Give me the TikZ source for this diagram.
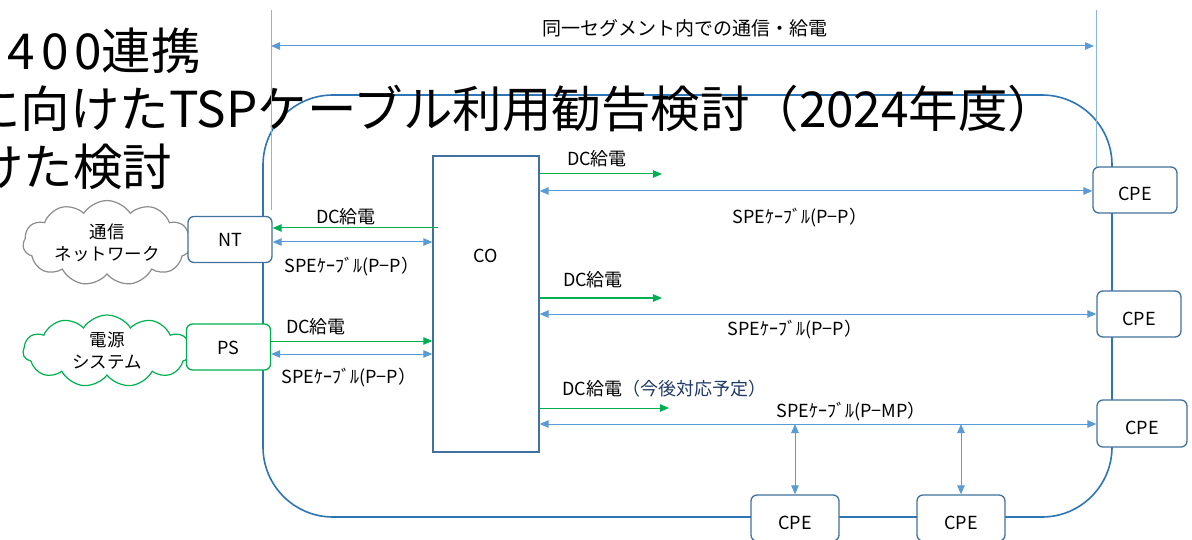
\documentclass[tikz,border=0pt]{standalone}
\usepackage{fontspec}
\setmainfont{Noto Sans CJK JP}
\usetikzlibrary{arrows.meta,shapes.symbols}
\definecolor{rectblue}{HTML}{2E75B6}
\definecolor{lblue}{HTML}{5B9BD5}
\definecolor{vblue}{HTML}{8AB6E0}
\definecolor{boxblue}{HTML}{41719C}
\definecolor{pgreen}{HTML}{00B050}
\definecolor{navy}{HTML}{203864}
\definecolor{cgray}{HTML}{8C8C8C}
\begin{document}
\begin{tikzpicture}[x=1pt,y=-1pt,
  tipA/.tip={Triangle[length=9pt,width=7.5pt]},
  box/.style={draw=boxblue, line width=1.3pt, rounded corners=6pt, fill=white,
    minimum width=84pt, minimum height=46pt, inner sep=0pt, font=\fontsize{18}{21}\selectfont},
  cpebox/.style={box, text height=22pt, text depth=0pt},
  bl/.style={draw=lblue, line width=1pt, {tipA}-{tipA}},
  gr/.style={draw=pgreen, line width=1pt, -{tipA}},
  vline/.style={draw=vblue, line width=0.9pt},
  lbl/.style={font=\fontsize{18}{21}\selectfont, inner sep=0pt},
  ttl/.style={font=\fontsize{49.5}{58}\selectfont, inner sep=0pt, anchor=base west},
  cloudtxt/.style={font=\fontsize{17.5}{22}\selectfont, align=center, inner sep=0pt}
]
\useasboundingbox (0,0) rectangle (1192,540);
\clip (0,0) rectangle (1192,540);

% segment outline
\draw[rectblue, line width=1.6pt, rounded corners=70pt] (263,95) rectangle (1112,517);

% title (cropped at the left edge)
\node[ttl] (t1) at (-26,70) {{\addfontfeature{LetterSpace=12}2400}連携};
\node[ttl] (t2) at (-29,128) {に向けたTSPケーブル利用勧告検討（2024年度）};
\node[ttl] (t3) at (-26,186) {けた検討};

% segment dimension
\coordinate (vl1) at (271,10); \coordinate (vl2) at (271,210);
\coordinate (vr1) at (1096,10); \coordinate (vr2) at (1096,167);
\draw[vline] (vl1) -- (vl2);
\draw[vline] (vr1) -- (vr2);
\coordinate (sl) at (271,46); \coordinate (sr) at (1094,46);
\draw[bl] (sl) -- (sr);
\node[lbl, font=\fontsize{19}{22}\selectfont] (seg) at (685,28) {同一セグメント内での通信・給電};

% clouds
\node[cloud, draw=cgray, line width=1.2pt, cloud puffs=11, cloud puff arc=115, aspect=2.3,
  minimum width=168pt, minimum height=76pt, fill=white, cloudtxt] (net) at (107,243) {通信\\ネットワーク};
\node[cloud, draw=pgreen, line width=1.2pt, cloud puffs=11, cloud puff arc=115, aspect=2.4,
  minimum width=168pt, minimum height=72pt, fill=white, cloudtxt] (pwr) at (107,351) {電源\\システム};

% boxes
\node[box] (nt) at (230,239.5) {NT};
\node[box, draw=pgreen, text height=15pt, text depth=0pt] (ps) at (228.5,347) {PS};
\node[draw=boxblue, line width=1.3pt, fill=white, minimum width=106pt, minimum height=296pt, inner sep=0pt] (co) at (486,304) {};
\node[font=\fontsize{18}{21}\selectfont] (colbl) at (486,256) {CO};
\node[cpebox] (cpe1) at (1135,190) {CPE};
\node[cpebox] (cpe2) at (1139,314) {CPE};
\node[cpebox, minimum width=90pt, minimum height=47pt] (cpe3) at (1142,423.5) {CPE};
\node[cpebox, minimum width=88pt] (cpe4) at (795,518) {CPE};
\node[cpebox, minimum width=88pt] (cpe5) at (961,518) {CPE};

% NT <-> CO
\coordinate (g1) at (438,228);
\draw[gr] (g1) -- (g1 -| nt.east);
\coordinate (b1) at (300,242);
\draw[bl] (b1 -| nt.east) -- (b1 -| co.west);
\node[lbl] (l1) at (346,217) {DC給電};
\node[lbl] (l2) at (352,267) {SPEｹｰﾌﾞﾙ(P−P）};

% PS <-> CO
\coordinate (g2) at (300,341);
\draw[gr] (g2 -| ps.east) -- (g2 -| co.west);
\coordinate (b2) at (300,354);
\draw[bl] (b2 -| ps.east) -- (b2 -| co.west);
\node[lbl] (l3) at (316,327) {DC給電};
\node[lbl] (l4) at (349,378) {SPEｹｰﾌﾞﾙ(P−P）};

% CO -> CPE1
\coordinate (g3) at (662,174);
\draw[gr] (g3 -| co.east) -- (g3);
\coordinate (b3) at (800,191);
\draw[bl] (b3 -| co.east) -- (b3 -| cpe1.west);
\node[lbl] (l5) at (597,159) {DC給電};
\node[lbl] (l6) at (800,218) {SPEｹｰﾌﾞﾙ(P−P）};

% CO -> CPE2
\coordinate (g4) at (662,298);
\draw[gr] (g4 -| co.east) -- (g4);
\coordinate (b4) at (800,314);
\draw[bl] (b4 -| co.east) -- (b4 -| cpe2.west);
\node[lbl] (l7) at (593,280) {DC給電};
\node[lbl] (l8) at (795,330) {SPEｹｰﾌﾞﾙ(P−P）};

% CO -> CPE3, CPE4, CPE5 (P-MP)
\coordinate (g5) at (669,408);
\draw[gr] (g5 -| co.east) -- (g5);
\coordinate (b5) at (800,424);
\draw[bl] (b5 -| co.east) -- (b5 -| cpe3.west);
\draw[bl] (cpe4.north |- b5) -- (cpe4.north);
\draw[bl] (cpe5.north |- b5) -- (cpe5.north);
\node[lbl, anchor=west] (l9) at (562,389) {DC給電\textcolor{navy}{（今後対応予定）}};
\node[lbl] (l10) at (851,412) {SPEｹｰﾌﾞﾙ(P−MP）};
\end{tikzpicture}
\end{document}
